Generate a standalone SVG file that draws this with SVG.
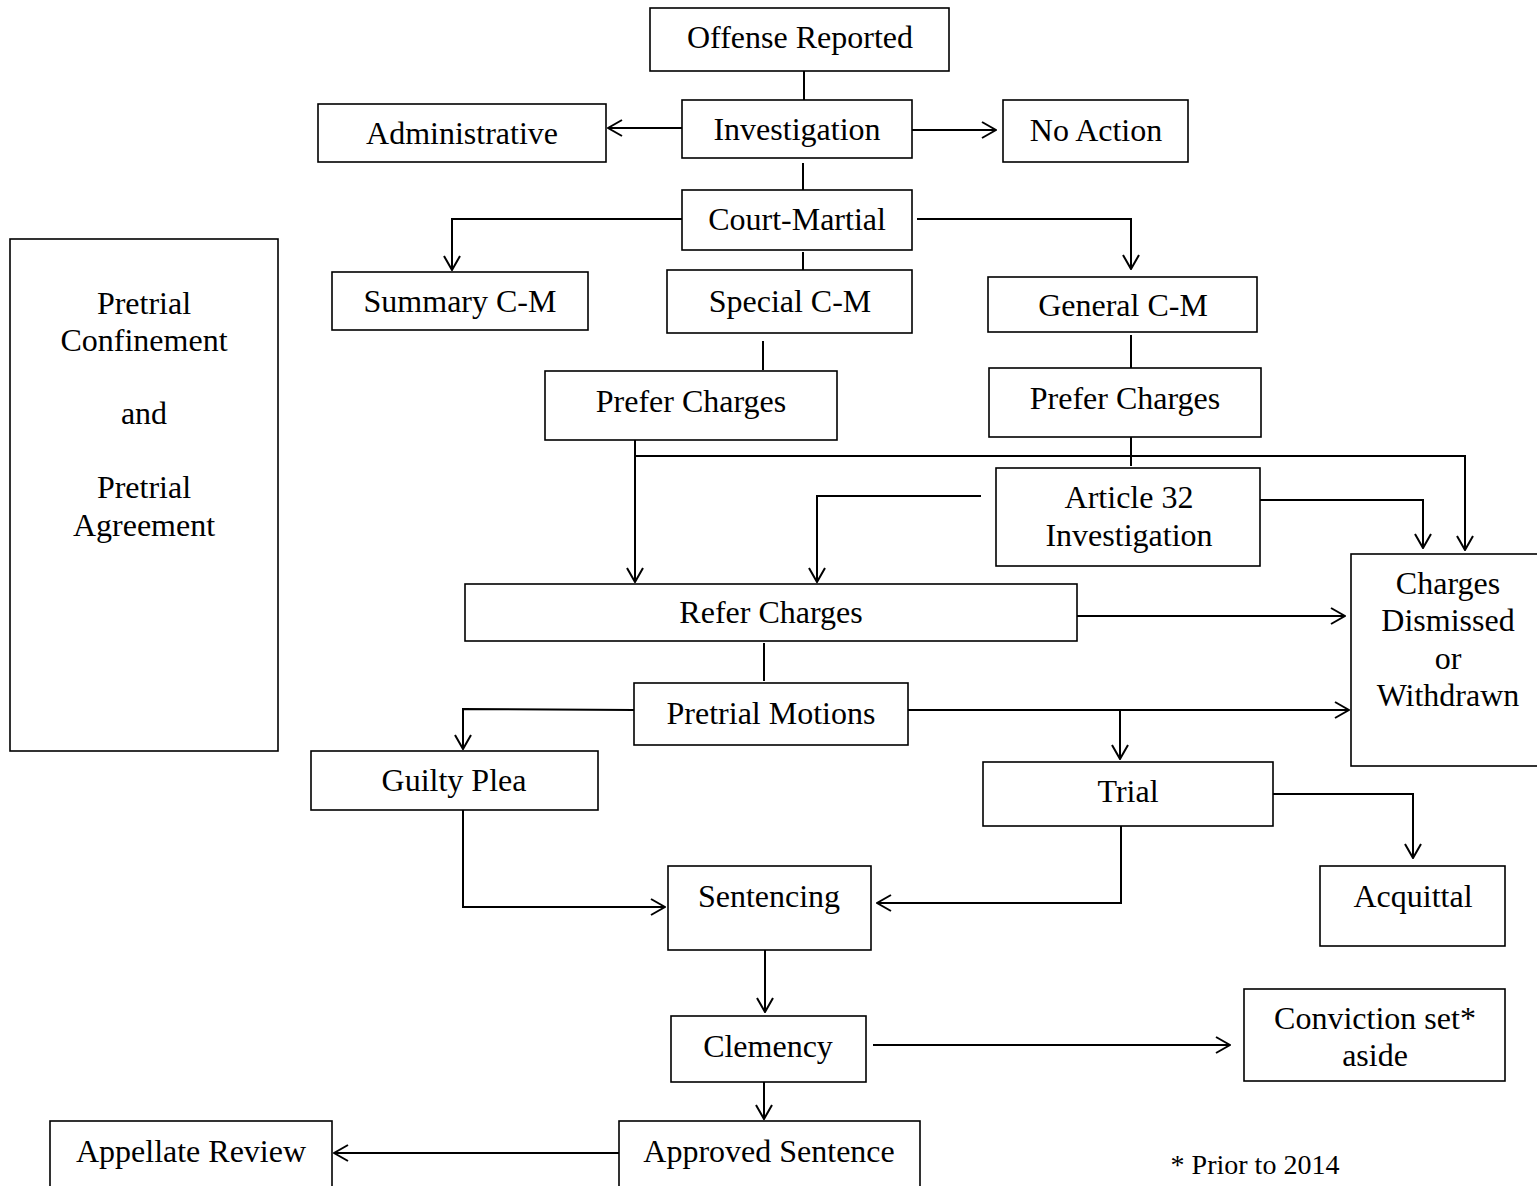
<svg xmlns="http://www.w3.org/2000/svg" width="1537" height="1186" viewBox="0 0 1537 1186">
<style>
rect{fill:#fff;stroke:#000;stroke-width:1.6}
text{font-family:"Liberation Serif","Times New Roman",serif;font-size:32px;fill:#000;text-anchor:middle}
.c path{fill:none;stroke:#000;stroke-width:2}
</style>
<defs>
<marker id="a" viewBox="0 0 16 18" refX="15" refY="9" markerWidth="16" markerHeight="18" markerUnits="userSpaceOnUse" orient="auto">
<path d="M1,1 L15,9 L1,17" fill="none" stroke="#000" stroke-width="2"/>
</marker>
</defs>
<rect width="1537" height="1186" style="stroke:none"/>
<g class="c">
<path d="M804,71 V100"/>
<path d="M682,128 H608" marker-end="url(#a)"/>
<path d="M912,130 H996" marker-end="url(#a)"/>
<path d="M803,163 V190"/>
<path d="M682,219 H452 V270" marker-end="url(#a)"/>
<path d="M917,219 H1131 V269" marker-end="url(#a)"/>
<path d="M803,252 V270"/>
<path d="M763,341 V370"/>
<path d="M1131,335 V368"/>
<path d="M635,440 V582" marker-end="url(#a)"/>
<path d="M635,456 H1465 V550" marker-end="url(#a)"/>
<path d="M1131,437 V466"/>
<path d="M981,496 H817 V582" marker-end="url(#a)"/>
<path d="M1260,500 H1423 V548" marker-end="url(#a)"/>
<path d="M1077,616 H1345" marker-end="url(#a)"/>
<path d="M764,643 V681"/>
<path d="M634,710 L463,709 V749" marker-end="url(#a)"/>
<path d="M908,710 H1349" marker-end="url(#a)"/>
<path d="M1120,710 V759" marker-end="url(#a)"/>
<path d="M1273,794 H1413 V858" marker-end="url(#a)"/>
<path d="M1121,826 V903 H877" marker-end="url(#a)"/>
<path d="M463,810 V907 H665" marker-end="url(#a)"/>
<path d="M765,950 V1012" marker-end="url(#a)"/>
<path d="M873,1045 H1230" marker-end="url(#a)"/>
<path d="M764,1082 V1119" marker-end="url(#a)"/>
<path d="M619,1153 H334" marker-end="url(#a)"/>
</g>
<g id="offense"><rect x="650" y="8" width="299" height="63"/><text x="800" y="48">Offense Reported</text></g>
<g id="administrative"><rect x="318" y="104" width="288" height="58"/><text x="462" y="144">Administrative</text></g>
<g id="investigation"><rect x="682" y="100" width="230" height="58"/><text x="797" y="140">Investigation</text></g>
<g id="noaction"><rect x="1003" y="100" width="185" height="62"/><text x="1096" y="141">No Action</text></g>
<g id="courtmartial"><rect x="682" y="190" width="230" height="60"/><text x="797" y="230">Court-Martial</text></g>
<g id="summary"><rect x="332" y="272" width="256" height="58"/><text x="460" y="312">Summary C-M</text></g>
<g id="special"><rect x="667" y="270" width="245" height="63"/><text x="790" y="312">Special C-M</text></g>
<g id="general"><rect x="988" y="277" width="269" height="55"/><text x="1123" y="316">General C-M</text></g>
<g id="pretrial"><rect x="10" y="239" width="268" height="512"/>
<text x="144" y="314">Pretrial</text><text x="144" y="351">Confinement</text><text x="144" y="424">and</text><text x="144" y="498">Pretrial</text><text x="144" y="536">Agreement</text></g>
<g id="prefer1"><rect x="545" y="371" width="292" height="69"/><text x="691" y="412">Prefer Charges</text></g>
<g id="prefer2"><rect x="989" y="368" width="272" height="69"/><text x="1125" y="409">Prefer Charges</text></g>
<g id="article32"><rect x="996" y="468" width="264" height="98"/><text x="1129" y="508">Article 32</text><text x="1129" y="546">Investigation</text></g>
<g id="dismissed"><rect x="1351" y="554" width="190" height="212"/><text x="1448" y="594">Charges</text><text x="1448" y="631">Dismissed</text><text x="1448" y="669">or</text><text x="1448" y="706">Withdrawn</text></g>
<g id="refer"><rect x="465" y="584" width="612" height="57"/><text x="771" y="623">Refer Charges</text></g>
<g id="motions"><rect x="634" y="683" width="274" height="62"/><text x="771" y="724">Pretrial Motions</text></g>
<g id="guilty"><rect x="311" y="751" width="287" height="59"/><text x="454" y="791">Guilty Plea</text></g>
<g id="trial"><rect x="983" y="762" width="290" height="64"/><text x="1128" y="802">Trial</text></g>
<g id="sentencing"><rect x="668" y="866" width="203" height="84"/><text x="769" y="907">Sentencing</text></g>
<g id="acquittal"><rect x="1320" y="866" width="185" height="80"/><text x="1413" y="907">Acquittal</text></g>
<g id="clemency"><rect x="671" y="1016" width="195" height="66"/><text x="768" y="1057">Clemency</text></g>
<g id="conviction"><rect x="1244" y="989" width="261" height="92"/><text x="1375" y="1029">Conviction set*</text><text x="1375" y="1066">aside</text></g>
<g id="appellate"><rect x="50" y="1121" width="282" height="75"/><text x="191" y="1162">Appellate Review</text></g>
<g id="approved"><rect x="619" y="1121" width="301" height="75"/><text x="769" y="1162">Approved Sentence</text></g>
<text x="1255" y="1174" style="font-size:28px">* Prior to 2014</text>
</svg>
